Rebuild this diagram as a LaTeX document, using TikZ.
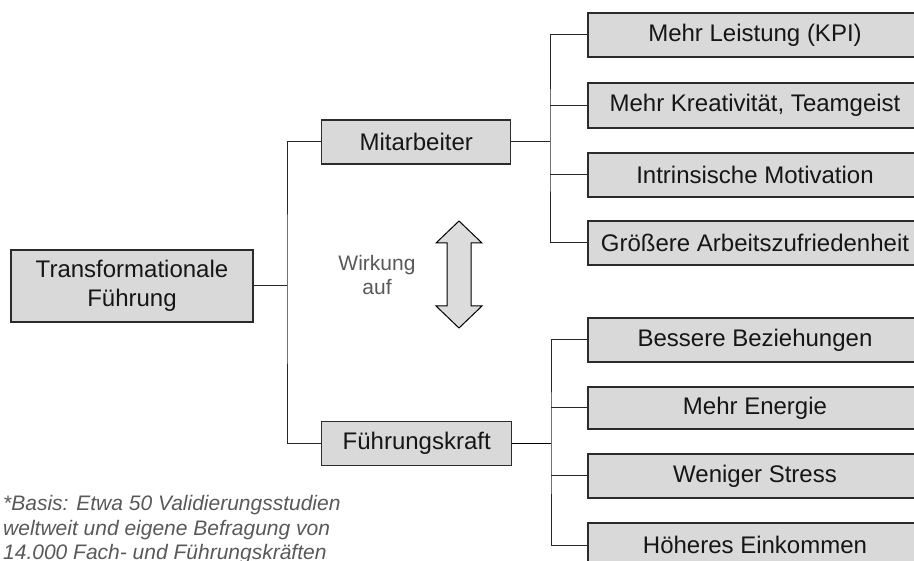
\documentclass[tikz,border=0pt]{standalone}
\usepackage{fontspec}
\setmainfont{Liberation Sans}
\definecolor{boxfill}{HTML}{D9D9D9}
\definecolor{boxline}{HTML}{2B2B2B}
\definecolor{txt}{HTML}{161616}
\definecolor{softtxt}{HTML}{595959}
\definecolor{arrfill}{HTML}{DCDCDC}
\tikzset{
  box/.style={draw=boxline, fill=boxfill, line width=1.2pt, rectangle, inner sep=0pt,
    text=txt, font=\fontsize{24}{29}\selectfont, align=center},
  conn/.style={draw=black!85, line width=1pt},
  connb/.style={draw=black, line width=1.6pt},
  note/.style={text=softtxt, inner sep=0pt},
  arrowshape/.style={draw=black, fill=arrfill, line width=1pt, line join=miter}
}
\begin{document}
\begin{tikzpicture}[x=1pt,y=-1pt]
\useasboundingbox (0,0) rectangle (914,561);
\clip (0,0) rectangle (914,561);

% main boxes
\node[box, minimum width=242pt, minimum height=72pt] (tf) at (132,286) {Transformationale\\Führung};
\node[box, minimum width=189pt, minimum height=44pt] (mit) at (416.2,142) {Mitarbeiter};
\node[box, minimum width=190pt, minimum height=44pt] (fk) at (416.7,443.7) {Führungskraft};

% right boxes (top group)
\node[box, minimum width=334pt, minimum height=44pt] (r1) at (755,35) {Mehr Leistung (KPI)};
\node[box, minimum width=334pt, minimum height=45pt] (r2) at (755,105.5) {Mehr Kreativität, Teamgeist};
\node[box, minimum width=334pt, minimum height=44pt] (r3) at (755,175) {Intrinsische Motivation};
\node[box, minimum width=334pt, minimum height=44pt] (r4) at (755,243) {Größere Arbeitszufriedenheit};

% right boxes (bottom group)
\node[box, minimum width=334pt, minimum height=44pt] (b1) at (755,340) {Bessere Beziehungen};
\node[box, minimum width=334pt, minimum height=42pt] (b2) at (755,408) {Mehr Energie};
\node[box, minimum width=334pt, minimum height=44pt] (b3) at (755,476) {Weniger Stress};
\node[box, minimum width=334pt, minimum height=44pt] (b4) at (755,545) {Höheres Einkommen};

% junctions
\coordinate (tr) at (287,286);
\coordinate (ja) at (550,142);
\coordinate (jb) at (551,443.7);

% connectors
\draw[conn] (tf.east) -- (tr);
\draw[conn] (mit.west) -| (tr) |- (fk.west);
\draw[conn] (mit.east) -- (ja);
\draw[conn] (r1.west) -| (ja) |- (r4.west);
\draw[conn] (r2.west) -- (r2.west -| ja);
\draw[conn] (r3.west) -- (r3.west -| ja);
\draw[connb] (fk.east) -- (jb);
\draw[conn] (b1.west) -| (jb) |- (b4.west);
\draw[conn] (b2.west) -- (b2.west -| jb);
\draw[conn] (b3.west) -- (b3.west -| jb);

% double arrow
\draw[arrowshape] (459,221) -- (482,243) -- (471,243) -- (471,306) -- (482,306)
  -- (459,328) -- (436,306) -- (447,306) -- (447,243) -- (436,243) -- cycle;

% Wirkung auf (base anchor = last line)
\node[note, font=\fontsize{21}{23.6}\selectfont, align=center, anchor=base] (wk) at (377,294.3) {Wirkung\\auf};

% footnote (base anchor = last line)
\node[note, font=\fontsize{21}{24.4}\selectfont\itshape, align=left, anchor=base west] (fn) at (3,559.5)
  {*Basis: Etwa 50 Validierungsstudien\\weltweit und eigene Befragung von\\14.000 Fach- und Führungskräften};
\end{tikzpicture}
\end{document}
